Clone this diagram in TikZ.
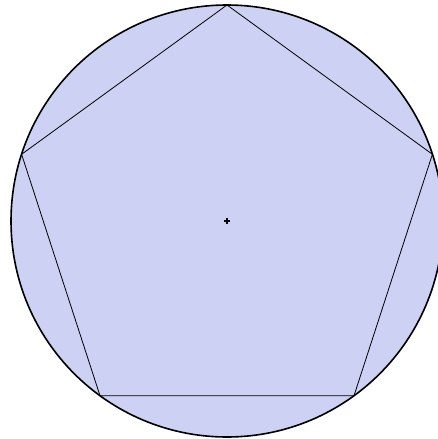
\documentclass[tikz,border=0pt]{standalone}
\definecolor{discfill}{RGB}{205,209,243}
\begin{document}
\begin{tikzpicture}[x=1pt,y=-1pt,
  disc/.style={draw=black,line width=1.6pt,fill=discfill},
  pent/.style={draw=black,line width=0.8pt,line join=miter},
  cmark/.style={draw=black,line width=1.5pt}]
\useasboundingbox (0,0) rectangle (438,439);
\clip (0,0) rectangle (438,439);
\coordinate (O) at (227,221);
\coordinate (P0) at (227,5);
\coordinate (P1) at (21.6,154.3);
\coordinate (P2) at (100,395.7);
\coordinate (P3) at (354,395.7);
\coordinate (P4) at (432.4,154.3);
\draw[disc] (O) circle[radius=216];
\draw[pent] (P0) -- (P1) -- (P2) -- (P3) -- (P4) -- cycle;
\draw[cmark] ([xshift=-3pt]O) -- ([xshift=3pt]O);
\draw[cmark] ([yshift=-3pt]O) -- ([yshift=3pt]O);
\end{tikzpicture}
\end{document}
